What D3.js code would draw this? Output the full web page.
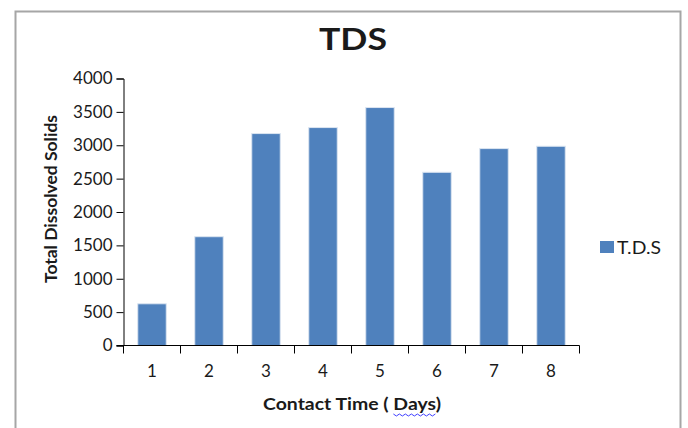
<!DOCTYPE html>
<html>
<head>
<meta charset="utf-8">
<script src="https://cdn.jsdelivr.net/npm/d3@7"></script>
<style>
body { margin: 0; background: #fff; }
text { font-family: Lato, "Open Sans", sans-serif; fill: #1a1a1a; }
</style>
</head>
<body>
<div id="chart"></div>
<script>
var days = ["1", "2", "3", "4", "5", "6", "7", "8"]
var tds = [625, 1630, 3175, 3265, 3565, 2595, 2950, 2985]
var yTicks = [0, 500, 1000, 1500, 2000, 2500, 3000, 3500, 4000]

var width = 688
var height = 428
var margin = {left: 123.5, right: 579.5, top: 78.5, bottom: 345.5}

var svg = d3.select("#chart").append("svg")
  .attr("width", width)
  .attr("height", height)

// outer frame
svg.append("rect")
  .attr("x", 15.5).attr("y", 11.5)
  .attr("width", 665).attr("height", 440)
  .attr("fill", "none")
  .attr("stroke", "#a6a6a6")
  .attr("stroke-width", 2)

var x = d3.scaleBand().domain(days).range([margin.left, margin.right]).paddingInner(0.5).paddingOuter(0.25)
var y = d3.scaleLinear().domain([0, 4000]).range([margin.bottom, margin.top])

svg.append("g")
  .selectAll("rect")
  .data(tds)
  .enter()
  .append("rect")
  .attr("x", function(d, i){ return x(days[i]) })
  .attr("width", x.bandwidth())
  .attr("y", function(d){ return y(d) })
  .attr("height", function(d){ return y(0) - y(d) })
  .attr("fill", "#4f81bd")
  .attr("stroke", "#dbe5f1")
  .attr("stroke-width", 1)

// y axis
var yAxis = svg.append("g")
  .attr("transform", "translate(" + margin.left + ",0)")
  .call(d3.axisLeft(y).tickValues(yTicks).tickFormat(d3.format("d")).tickSize(7).tickPadding(4))
yAxis.select(".domain").attr("stroke", "#000")
yAxis.selectAll("line").attr("stroke", "#000")
yAxis.selectAll("text").style("font-size", "17px").attr("fill", "#1a1a1a")

// x axis, ticks between categories
var xEdges = d3.range(days.length + 1).map(function(i){ return margin.left + i * (margin.right - margin.left) / days.length })
var xAxis = svg.append("g")
xAxis.append("line")
  .attr("x1", margin.left - 7).attr("x2", margin.right)
  .attr("y1", margin.bottom).attr("y2", margin.bottom)
  .attr("stroke", "#000")
xAxis.selectAll(".tk")
  .data(xEdges)
  .enter()
  .append("line")
  .attr("class", "tk")
  .attr("x1", function(d){ return d }).attr("x2", function(d){ return d })
  .attr("y1", margin.bottom).attr("y2", margin.bottom + 8)
  .attr("stroke", "#000")
xAxis.selectAll(".lbl")
  .data(days)
  .enter()
  .append("text")
  .attr("class", "lbl")
  .attr("x", function(d){ return x(d) + x.bandwidth() / 2 })
  .attr("y", 377)
  .attr("text-anchor", "middle")
  .style("font-size", "17px")
  .text(function(d){ return d })

// titles (the source picture is stretched sideways, so widths are fixed)
svg.append("text")
  .attr("x", 353).attr("y", 50)
  .attr("text-anchor", "middle")
  .attr("textLength", 68).attr("lengthAdjust", "spacingAndGlyphs")
  .style("font-size", "31px")
  .style("font-weight", "bold")
  .text("TDS")

var xt = svg.append("text")
  .attr("x", 352).attr("y", 410)
  .attr("text-anchor", "middle")
  .attr("textLength", 178).attr("lengthAdjust", "spacingAndGlyphs")
  .style("font-size", "17px")
  .style("font-weight", "bold")
xt.append("tspan").text("Contact Time ( ")
var daysSpan = xt.append("tspan").text("Days")
xt.append("tspan").text(")")

// spell-check squiggle under "Days"
var bb = daysSpan.node().getBBox()
var sq = d3.range(0, Math.floor(bb.width / 3) + 1).map(function(i){ return [bb.x + i * 3, 414 + (i % 2 ? 2 : 0)] })
svg.append("path")
  .attr("d", d3.line()(sq))
  .attr("fill", "none")
  .attr("stroke", "#4040ff")
  .attr("stroke-width", 1)

svg.append("text")
  .attr("transform", "translate(57,199) rotate(-90)")
  .attr("text-anchor", "middle")
  .attr("textLength", 168).attr("lengthAdjust", "spacingAndGlyphs")
  .style("font-size", "17px")
  .style("font-weight", "bold")
  .text("Total Dissolved Solids")

// legend
svg.append("rect")
  .attr("x", 600).attr("y", 241)
  .attr("width", 14).attr("height", 12)
  .attr("fill", "#4f81bd")
svg.append("text")
  .attr("x", 617).attr("y", 254)
  .attr("textLength", 44).attr("lengthAdjust", "spacingAndGlyphs")
  .style("font-size", "18px")
  .text("T.D.S")
</script>
</body>
</html>
